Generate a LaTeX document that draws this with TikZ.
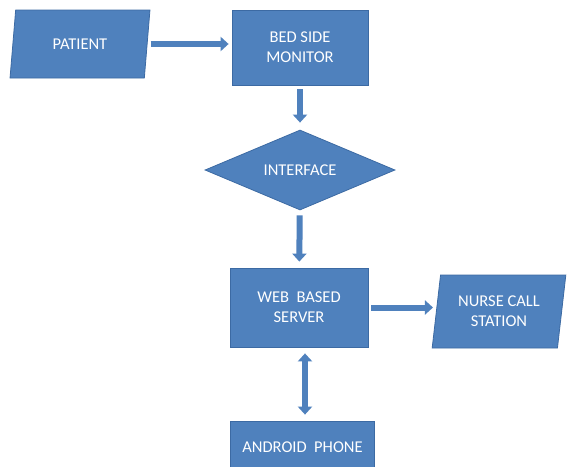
\documentclass[tikz,border=0pt]{standalone}
\usepackage{fontspec}
\setmainfont{Carlito}
\usetikzlibrary{arrows.meta,positioning,shapes.geometric}
\definecolor{boxblue}{HTML}{4F81BD}
\definecolor{edgeblue}{HTML}{3C6AA3}
\tikzset{block/.style={draw=edgeblue, line width=0.8pt, fill=boxblue, text=white, font=\fontsize{16.5}{20}\selectfont, align=center, inner sep=2pt}}
\tikzset{rbox/.style={block, rectangle}}
\tikzset{slant/.style={block, trapezium, trapezium left angle=80, trapezium right angle=100, trapezium stretches=true}}
\tikzset{arr/.style={draw=boxblue, line width=6pt, -{Triangle[width=14pt,length=8pt]}, shorten <=3pt, shorten >=3pt}}
\tikzset{darr/.style={arr, {Triangle[width=14pt,length=8pt]}-{Triangle[width=14pt,length=8pt]}}}

\begin{document}
\begin{tikzpicture}[x=1pt,y=-1pt]
                \useasboundingbox[fill=white] (0,0) rectangle (569,466);
                \node[slant, minimum width=140pt, minimum height=68pt] (pat) at (80,44) {PATIENT};
                \node[rbox, minimum width=136pt, minimum height=75pt] (mon) at (300,47.5) {BED SIDE\\MONITOR};
                \node[block, diamond, aspect=2.4, inner sep=0pt, minimum width=190pt, minimum height=80pt] (iface) at (300,170) {INTERFACE};
                \node[rbox, minimum width=138pt, minimum height=79pt] (srv) at (299,307.5) {WEB\ \ BASED\\SERVER};
                \node[slant, minimum width=134pt, minimum height=73pt] (nurse) at (499,311.5) {NURSE CALL\\STATION};
                \node[rbox, minimum width=144pt, minimum height=52pt] (phone) at (302.5,447) {ANDROID\ \ PHONE};

                \draw[arr] (pat.east) -- (pat.east -| mon.west);
                \draw[arr, shorten <=4pt, shorten >=7pt] (mon) -- (iface);
                \draw[arr, shorten <=5pt, shorten >=6pt] (iface) -- (srv);
                \draw[arr] (srv.east) -- (srv.east -| nurse.west);
                \draw[darr, shorten <=6pt, shorten >=6pt] ([xshift=6pt]srv.south) -- ([xshift=6pt]srv.south |- phone.north);
            \end{tikzpicture}
\end{document}
